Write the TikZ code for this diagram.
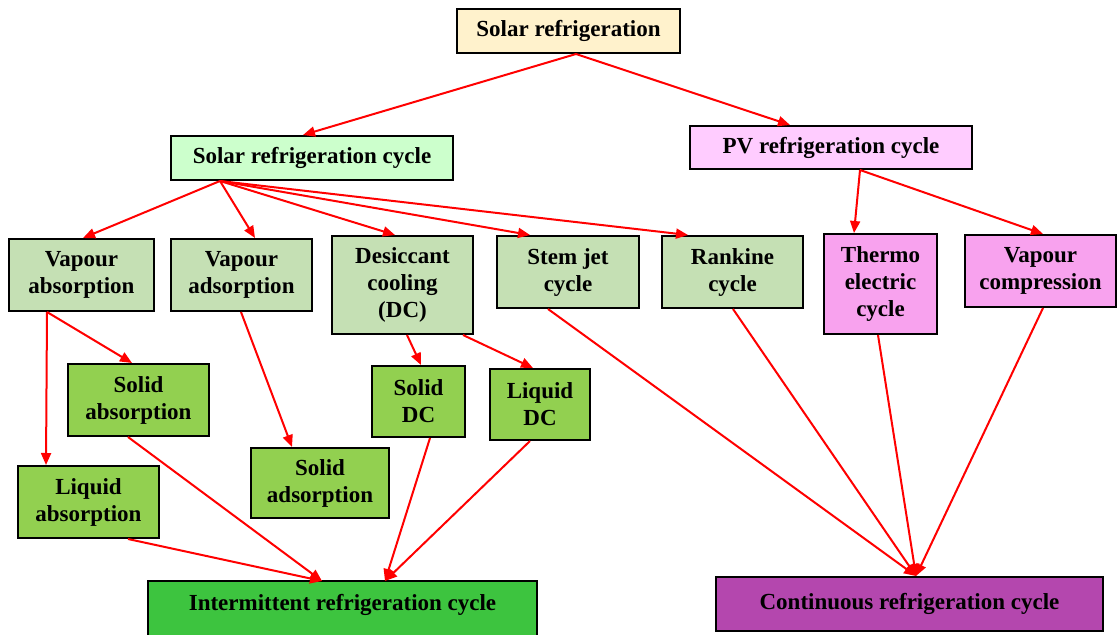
\documentclass[tikz,border=0pt]{standalone}
\usepackage{fontspec}
\setmainfont{Liberation Serif}
\usetikzlibrary{arrows.meta,backgrounds}
\definecolor{cream}{HTML}{FFF2CC}
\definecolor{mint}{HTML}{CCFFCC}
\definecolor{pvpink}{HTML}{FFCCFF}
\definecolor{palegreen}{HTML}{C5E0B4}
\definecolor{midpink}{HTML}{F8A2EE}
\definecolor{leafgreen}{HTML}{92D050}
\definecolor{intgreen}{HTML}{3DC43F}
\definecolor{contpurple}{HTML}{B447AE}
\definecolor{arrred}{HTML}{FF0000}
\tikzset{
  box/.style={draw=black, line width=2pt, inner sep=0pt, align=center,
    font=\bfseries\fontsize{23}{27}\selectfont},
  arr/.style={draw=arrred, line width=2pt, -{Triangle[length=12pt,width=10pt]}},
}
\begin{document}
\begin{tikzpicture}[x=1pt,y=-1pt]
\useasboundingbox (0,0) rectangle (1118,634);

\node[box, fill=cream, minimum width=223, minimum height=44] (sr) at (568.5,31) {Solar refrigeration};
\node[box, fill=mint, minimum width=282, minimum height=44] (src) at (312,158) {Solar refrigeration cycle};
\node[box, fill=pvpink, minimum width=282, minimum height=43] (pv) at (831,147.5) {PV refrigeration cycle};

\node[box, fill=palegreen, minimum width=145, minimum height=72] (va) at (81.5,275) {Vapour\\absorption};
\node[box, fill=palegreen, minimum width=141, minimum height=72] (vd) at (241.5,275) {Vapour\\adsorption};
\node[box, fill=palegreen, minimum width=141, minimum height=98] (dc) at (402.5,285) {Desiccant\\cooling\\(DC)};
\node[box, fill=palegreen, minimum width=142, minimum height=72] (sj) at (568,272) {Stem jet\\cycle};
\node[box, fill=palegreen, minimum width=141, minimum height=72] (rk) at (732.5,272) {Rankine\\cycle};
\node[box, fill=midpink, minimum width=113, minimum height=100] (te) at (880.5,284) {Thermo\\electric\\cycle};
\node[box, fill=midpink, minimum width=151, minimum height=72] (vc) at (1040.5,271) {Vapour\\compression};

\node[box, fill=leafgreen, minimum width=141, minimum height=72] (sa) at (138.5,400) {Solid\\absorption};
\node[box, fill=leafgreen, minimum width=141, minimum height=72] (la) at (88.5,502) {Liquid\\absorption};
\node[box, fill=leafgreen, minimum width=138, minimum height=70] (sd) at (320,483) {Solid\\adsorption};
\node[box, fill=leafgreen, minimum width=93, minimum height=71] (sdc) at (418.5,401.5) {Solid\\DC};
\node[box, fill=leafgreen, minimum width=100, minimum height=71] (ldc) at (540,404.5) {Liquid\\DC};

\node[box, draw=none, minimum width=387, minimum height=46] (ir) at (342.5,605) {Intermittent refrigeration cycle};
\begin{scope}[on background layer]
\draw[line width=2pt, fill=intgreen] (ir.north west) rectangle ([yshift=-16pt]ir.south east);
\end{scope}
\node[box, fill=contpurple, minimum width=387, minimum height=54] (cr) at (909.5,604) {Continuous refrigeration cycle};

\draw[arr] ([xshift=7.5]sr.south) -- ([xshift=-9]src.north);
\draw[arr] ([xshift=7.5]sr.south) -- ([xshift=-41]pv.north);

\draw[arr] ([xshift=-92]src.south) -- ([xshift=1.5]va.north);
\draw[arr] ([xshift=-92]src.south) -- ([xshift=13.5]vd.north);
\draw[arr] ([xshift=-92]src.south) -- ([xshift=-7.5]dc.north);
\draw[arr] ([xshift=-92]src.south) -- ([xshift=-38]sj.north);
\draw[arr] ([xshift=-92]src.south) -- ([xshift=-44.5]rk.north);

\draw[arr] ([xshift=29]pv.south) -- ([xshift=-26.5]te.north);
\draw[arr] ([xshift=29]pv.south) -- ([xshift=2.5]vc.north);

\draw[arr] ([xshift=-34.5]va.south) -- ([xshift=-6.5]sa.north);
\draw[arr] ([xshift=-34.5]va.south) -- ([xshift=-42.5]la.north);
\draw[arr] ([xshift=-0.5]vd.south) -- ([xshift=-28]sd.north);
\draw[arr] ([xshift=4.5]dc.south) -- ([xshift=2.5]sdc.north);
\draw[arr] ([xshift=60.5]dc.south) -- ([xshift=-7]ldc.north);

\draw[arr] ([xshift=-10.5]sa.south) -- ([xshift=-20.5]ir.north);
\draw[arr] ([xshift=39.5]la.south) -- ([xshift=-20.5]ir.north);
\draw[arr] ([xshift=11.5]sdc.south) -- ([xshift=42.5]ir.north);
\draw[arr] ([xshift=-10]ldc.south) -- ([xshift=42.5]ir.north);

\draw[arr] ([xshift=-20]sj.south) -- ([xshift=6.5]cr.north);
\draw[arr] ([xshift=0.5]rk.south) -- ([xshift=6.5]cr.north);
\draw[arr] ([xshift=-2.5]te.south) -- ([xshift=6.5]cr.north);
\draw[arr] ([xshift=2.5]vc.south) -- ([xshift=6.5]cr.north);
\end{tikzpicture}
\end{document}
